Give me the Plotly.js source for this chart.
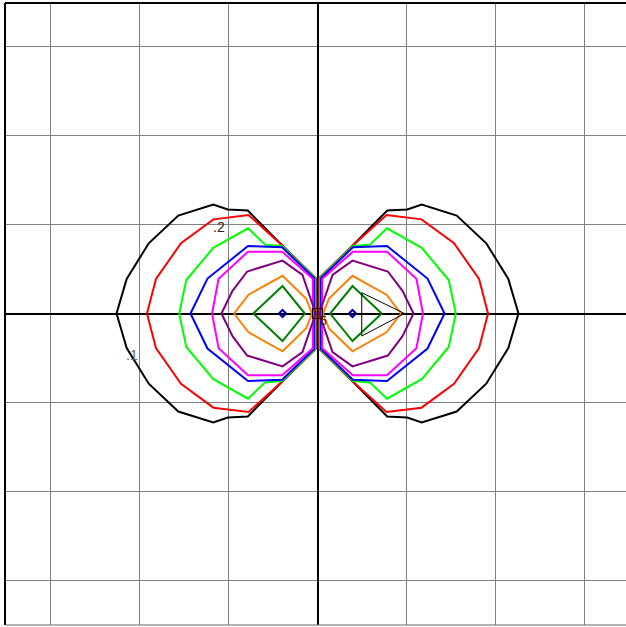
<!DOCTYPE html>
<html>
<head>
<meta charset="utf-8">
<script src="https://cdn.plot.ly/plotly-3.0.1.min.js"></script>
<style>html,body{margin:0;padding:0;background:#fff;}#chart{width:626px;height:627px;}</style>
</head>
<body>
<div id="chart"></div>
<script>
// Contour levels, left lobe then right lobe (null separates the two lobes)
var blackX = [-2.258,-2.144,-1.896,-1.564,-1.171,-1.008,-0.783,-0.402,-0.020,-0.017,-0.020,-0.402,-0.783,-1.008,-1.171,-1.564,-1.896,-2.144,-2.258, null,
              2.258,2.144,1.896,1.564,1.171,1.008,0.783,0.402,0.020,0.017,0.020,0.402,0.783,1.008,1.171,1.564,1.896,2.144,2.258];
var blackY = [0,0.388,0.789,1.101,1.225,1.169,1.157,0.770,0.396,0,-0.396,-0.770,-1.157,-1.169,-1.225,-1.101,-0.789,-0.388,0, null,
              0,0.388,0.789,1.101,1.225,1.169,1.157,0.770,0.396,0,-0.396,-0.770,-1.157,-1.169,-1.225,-1.101,-0.789,-0.388,0];

var redX = [-1.916,-1.815,-1.534,-1.169,-0.775,-0.402,-0.022,-0.020,-0.022,-0.402,-0.775,-1.169,-1.534,-1.815,-1.916, null,
            1.916,1.815,1.534,1.169,0.775,0.402,0.022,0.020,0.022,0.402,0.775,1.169,1.534,1.815,1.916];
var redY = [0,0.388,0.789,1.058,1.107,0.770,0.396,0,-0.396,-0.770,-1.107,-1.058,-0.789,-0.388,0, null,
            0,0.388,0.789,1.058,1.107,0.770,0.396,0,-0.396,-0.770,-1.107,-1.058,-0.789,-0.388,0];

var greenX = [-1.554,-1.474,-1.171,-0.781,-0.588,-0.397,-0.026,-0.026,-0.026,-0.397,-0.588,-0.781,-1.171,-1.474,-1.554, null,
              1.554,1.474,1.171,0.781,0.588,0.397,0.026,0.026,0.026,0.397,0.588,0.781,1.171,1.474,1.554];
var greenY = [0,0.376,0.738,0.957,0.774,0.758,0.396,0,-0.396,-0.758,-0.774,-0.957,-0.738,-0.376,0, null,
              0,0.376,0.738,0.957,0.774,0.758,0.396,0,-0.396,-0.758,-0.774,-0.957,-0.738,-0.376,0];

var blueX = [-1.427,-1.236,-0.781,-0.397,-0.038,-0.036,-0.038,-0.397,-0.781,-1.236,-1.427, null,
             1.427,1.236,0.781,0.397,0.038,0.036,0.038,0.397,0.781,1.236,1.427];
var blueY = [0,0.393,0.758,0.744,0.396,0,-0.396,-0.744,-0.758,-0.393,0, null,
             0,0.393,0.758,0.744,0.396,0,-0.396,-0.744,-0.758,-0.393,0];

var magentaX = [-1.185,-1.111,-0.781,-0.397,-0.053,-0.048,-0.053,-0.397,-0.781,-1.111,-1.185, null,
                1.185,1.111,0.781,0.397,0.053,0.048,0.053,0.397,0.781,1.111,1.185];
var magentaY = [0,0.390,0.694,0.694,0.390,0,-0.390,-0.694,-0.694,-0.390,0, null,
                0,0.390,0.694,0.694,0.390,0,-0.390,-0.694,-0.694,-0.390,0];

var purpleX = [-1.079,-0.955,-0.790,-0.393,-0.169,-0.020,-0.169,-0.393,-0.790,-0.955,-1.079, null,
               1.079,0.955,0.790,0.393,0.169,0.020,0.169,0.393,0.790,0.955,1.079];
var purpleY = [0,0.255,0.472,0.594,0.433,0,-0.433,-0.594,-0.472,-0.255,0, null,
               0,0.255,0.472,0.594,0.433,0,-0.433,-0.594,-0.472,-0.255,0];

var orangeX = [-0.938,-0.775,-0.393,-0.129,-0.062,-0.129,-0.393,-0.775,-0.938, null,
               0.938,0.775,0.393,0.129,0.062,0.129,0.393,0.775,0.938];
var orangeY = [0,0.211,0.424,0.169,0,-0.169,-0.424,-0.211,0, null,
               0,0.211,0.424,0.169,0,-0.169,-0.424,-0.211,0];

var dkgreenX = [-0.721,-0.393,-0.142,-0.393,-0.721, null, 0.721,0.393,0.142,0.393,0.721];
var dkgreenY = [0,0.309,0,-0.309,0, null, 0,0.309,0,-0.309,0];

var navyX = [-0.433,-0.393,-0.353,-0.393,-0.433, null, 0.353,0.393,0.433,0.393,0.353];
var navyY = [0,0.04,0,-0.04,0, null, 0,0.04,0,-0.04,0];

var arrowX = [0.497,0.978,0.497,0.497];
var arrowY = [0.234,0,-0.253,0.234];

var centerX = [0];
var centerY = [0];

var levelNames = ['.1','.2','.3','.4','.5','.6','.7','.8','.9'];
var labelText = ['.2', '.1', '5'];
var labelX = [-1.112, -2.084, 0.07];
var labelY = [0.972, -0.466, -0.085];

var series = [
  [blackX, blackY, '#000000'],
  [redX, redY, '#ff0000'],
  [greenX, greenY, '#00ff00'],
  [blueX, blueY, '#0000ff'],
  [magentaX, magentaY, '#ff00ff'],
  [purpleX, purpleY, '#800080'],
  [orangeX, orangeY, '#ff8000'],
  [dkgreenX, dkgreenY, '#008000'],
  [navyX, navyY, '#0000a0']
];

var traces = series.map(function (s, i) {
  return {x: s[0], y: s[1], mode: 'lines', type: 'scatter', name: levelNames[i],
          line: {color: s[2], width: 2}, connectgaps: false, hoverinfo: 'skip'};
});
traces.push({x: arrowX, y: arrowY, mode: 'lines', type: 'scatter',
             line: {color: '#000', width: 1}, hoverinfo: 'skip'});
traces.push({x: centerX, y: centerY, mode: 'markers', type: 'scatter',
             marker: {symbol: 'square-open', size: 10, color: '#000', line: {width: 1, color: '#000'}},
             hoverinfo: 'skip'});

var annotations = labelText.map(function (t, i) {
  return {x: labelX[i], y: labelY[i], text: t, showarrow: false, xref: 'x', yref: 'y',
          font: {family: 'Liberation Sans, Arial, sans-serif', size: i === 2 ? 12 : 14,
                 color: i === 1 ? '#666' : '#222'}};
});

var layout = {
  width: 626, height: 627,
  margin: {l: 5, r: 0, t: 3, b: 2},
  paper_bgcolor: '#fff', plot_bgcolor: '#fff',
  showlegend: false,
  xaxis: {range: [-3.511, 3.466], dtick: 1, tick0: 0, showticklabels: false, ticks: '',
          showgrid: true, gridcolor: '#808080', gridwidth: 1,
          zeroline: true, zerolinecolor: '#000', zerolinewidth: 2, showline: false, fixedrange: true},
  yaxis: {range: [-3.5, 3.489], dtick: 1, tick0: 0, showticklabels: false, ticks: '',
          showgrid: true, gridcolor: '#808080', gridwidth: 1,
          zeroline: true, zerolinecolor: '#000', zerolinewidth: 2, showline: false, fixedrange: true},
  shapes: [
    {type: 'line', xref: 'paper', yref: 'paper', x0: 0, x1: 0, y0: 0, y1: 1, line: {color: '#000', width: 2}},
    {type: 'line', xref: 'paper', yref: 'paper', x0: 0, x1: 1, y0: 1, y1: 1, line: {color: '#000', width: 2}},
    {type: 'line', xref: 'paper', yref: 'paper', x0: 0, x1: 1, y0: 0, y1: 0, line: {color: '#666', width: 1}}
  ],
  annotations: annotations
};

Plotly.newPlot('chart', traces, layout, {displayModeBar: false, staticPlot: true});
</script>
</body>
</html>
